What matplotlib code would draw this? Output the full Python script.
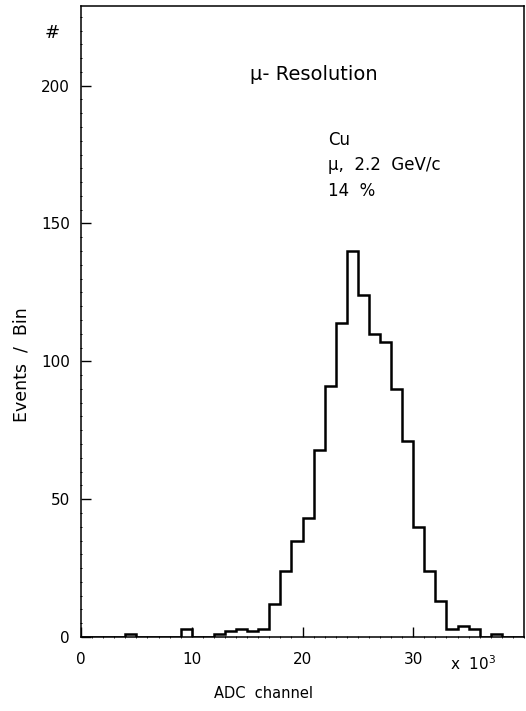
import numpy as np
import matplotlib
matplotlib.use("Agg")
import matplotlib.pyplot as plt
from matplotlib.ticker import MultipleLocator

# ADC channel bins (units of 10^3), left edges, width 1
adc_bins = list(range(0, 40))
bin_width = 1
counts = [0, 0, 0, 0, 1, 0, 0, 0, 0, 3,
          0, 0, 1, 2, 3, 2, 3, 12, 24, 35,
          43, 68, 91, 114, 140, 124, 110, 107, 90, 71,
          40, 24, 13, 3, 4, 3, 0, 1, 0, 0]

y_ticks = [0, 50, 100, 150, 200]
x_ticks = [0, 10, 20, 30]
info_lines = ["Cu", "\u03bc,  2.2  GeV/c", "14  %"]

plt.rcParams['font.family'] = ['DejaVu Sans']

fig = plt.figure(figsize=(5.26, 7.11), dpi=100)
ax = fig.add_axes([81 / 526, 1 - 637 / 711, 443 / 526, (637 - 5.7) / 711])

edges = np.append(adc_bins, adc_bins[-1] + bin_width)
ax.stairs(counts, edges, color='black', linewidth=1.8, baseline=0)

ax.set_xlim(0, 40)
ax.set_ylim(0, 229)
ax.set_xticks(x_ticks)
ax.set_yticks(y_ticks)
ax.xaxis.set_minor_locator(MultipleLocator(1))
ax.yaxis.set_minor_locator(MultipleLocator(5))
ax.tick_params(which='major', direction='in', length=7, width=1.0,
               labelsize=11, colors='black')
ax.tick_params(axis='x', which='major', pad=11)
ax.tick_params(axis='y', which='major', pad=8)
ax.tick_params(axis='y', which='minor', direction='inout', length=1.8, width=0.7)
ax.tick_params(axis='x', which='minor', direction='inout', length=1.2, width=0.6)
for sp in ax.spines.values():
    sp.set_linewidth(1.1)

# axis labels and annotations
fig.text(52 / 526, 1 - 33 / 711, "#", fontsize=13, ha='center', va='center')
fig.text(22 / 526, 1 - 365 / 711, "Events  /  Bin", fontsize=12.5,
         rotation=90, ha='center', va='center')
fig.text(263 / 526, 1 - 693 / 711, "ADC  channel", fontsize=10.5,
         ha='center', va='center')
ax.text(33.3, -9.5, "x  10$^3$", fontsize=11, ha='left', va='center')
fig.text(314 / 526, 1 - 75 / 711, "\u03bc- Resolution", fontsize=14,
         ha='center', va='center')
for i, line in enumerate(info_lines):
    fig.text(328 / 526, 1 - (140 + i * 25.5) / 711, line, fontsize=12,
             ha='left', va='center')

fig.savefig("out.png", dpi=100)
